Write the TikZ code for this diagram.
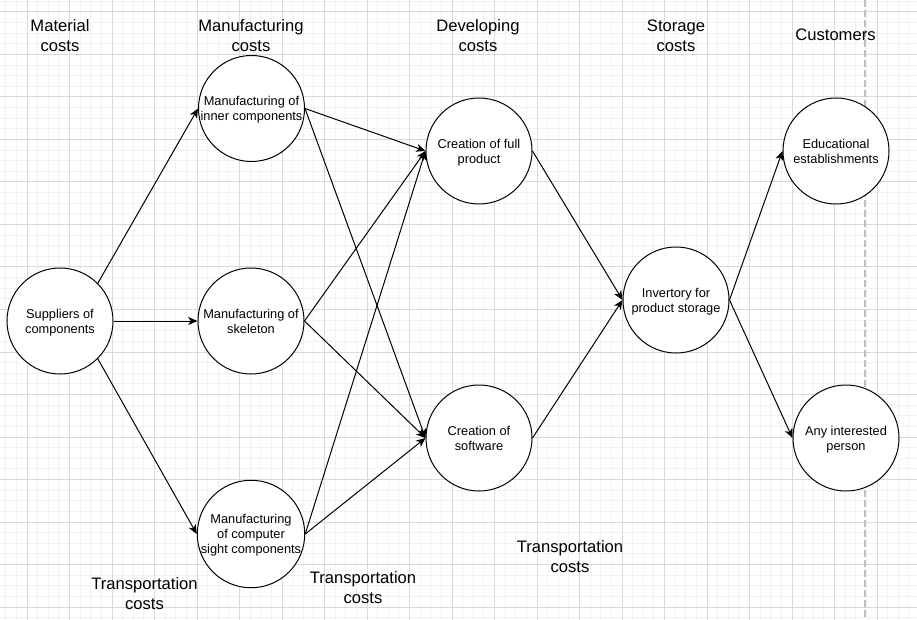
\documentclass[tikz,border=0pt]{standalone}
\usepackage{fontspec}
\setmainfont{Liberation Sans}
\usetikzlibrary{arrows.meta}
\begin{document}
\begin{tikzpicture}[x=0.75pt,y=-0.75pt,
  stage/.style={circle,draw=black,line width=0.75pt,fill=white,minimum size=79.5pt,inner sep=0pt,align=center,text depth=0pt,font=\fontsize{9.6}{11.25}\selectfont},
  head/.style={align=center,inner sep=0pt,font=\fontsize{12.45}{15}\selectfont},
  flow/.style={draw=black,line width=0.75pt,-{Stealth[length=7pt,width=6pt,inset=2pt]}},
  minorgrid/.style={draw=black!5,line width=0.75pt},
  majorgrid/.style={draw=black!15,line width=0.75pt}]
\useasboundingbox (0,0) rectangle (917,620);
\fill[white] (0,0) rectangle (917,620);
% grid
\foreach \k in {-2,...,84} {\draw[minorgrid] ({27+10.625*\k},0) -- ({27+10.625*\k},620);}
\foreach \k in {-1,...,57} {\draw[minorgrid] (0,{12+10.625*\k}) -- (917,{12+10.625*\k});}
\foreach \k in {0,...,21} {\draw[majorgrid] ({-15.5+42.5*\k},0) -- ({-15.5+42.5*\k},620);}
\foreach \k in {0,...,15} {\draw[majorgrid] (0,{-30.5+42.5*\k}) -- (917,{-30.5+42.5*\k});}
\coordinate (dtop) at (865,0);
\coordinate (dbot) at (865,620);
\draw[draw=black!25,line width=1pt,dash pattern=on 5pt off 2.5pt] (dtop) -- (dbot);
% headings
\node[head] (h1) at (60,35.5) {Material\\costs};
\node[head] (h2) at (251,35.5) {Manufacturing\\costs};
\node[head] (h3) at (478,35.5) {Developing\\costs};
\node[head] (h4) at (676,35.5) {Storage\\costs};
\node[head] (h5) at (835.5,35) {Customers};
\node[head] (t1) at (144.5,594) {Transportation\\costs};
\node[head] (t2) at (363,588) {Transportation\\costs};
\node[head] (t3) at (570,556.5) {Transportation\\costs};
% nodes
\node[stage] (sup) at (60,321) {Suppliers of\\components};
\node[stage] (inner) at (251.5,108.5) {Manufacturing of\\inner components};
\node[stage] (skel) at (251,321) {Manufacturing of\\skeleton};
\node[stage] (sight) at (251,534) {Manufacturing\\of computer\\sight components};
\node[stage] (full) at (479,151) {Creation of full\\product};
\node[stage] (soft) at (479,438) {Creation of\\software};
\node[stage] (inv) at (676,300) {Invertory for\\product storage};
\node[stage] (edu) at (836,151) {Educational\\establishments};
\node[stage] (any) at (846,438) {Any interested\\person};
% edges
\draw[flow] (sup.north east) -- (inner.west);
\draw[flow] (sup.east) -- (skel.west);
\draw[flow] (sup.south east) -- (sight.west);
\draw[flow] (inner.east) -- (full.west);
\draw[flow] (inner.east) -- (soft.west);
\draw[flow] (skel.east) -- (full.west);
\draw[flow] (skel.east) -- (soft.west);
\draw[flow] (sight.east) -- (full.west);
\draw[flow] (sight.east) -- (soft.west);
\draw[flow] (full.east) -- (inv.west);
\draw[flow] (soft.east) -- (inv.west);
\draw[flow] (inv.east) -- (edu.west);
\draw[flow] (inv.east) -- (any.west);
\end{tikzpicture}
\end{document}
